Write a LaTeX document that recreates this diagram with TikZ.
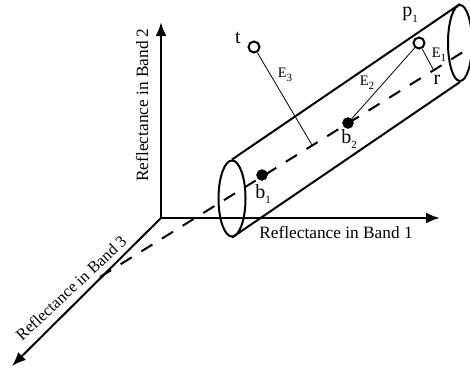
\documentclass[tikz,border=0pt]{standalone}
\usepackage{fontspec}
\setmainfont{Liberation Serif}
\usepackage{tikz}
\usetikzlibrary{arrows.meta,positioning,shapes.geometric}
\newcommand{\subidx}[1]{\raisebox{-0.6ex}{\fontsize{11}{11}\selectfont #1}}

\begin{document}
\begin{tikzpicture}[
  x=1pt, y=-1pt,
  font=\fontsize{17.3}{18}\selectfont,
  axisline/.style={line width=2.6pt, -{Latex[length=14pt,width=11pt]}},
  tubeline/.style={line width=2pt},
  tubeend/.style={draw, ellipse, line width=2pt, inner sep=0pt, minimum width=27pt, minimum height=76pt},
  openpt/.style={draw, circle, line width=2pt, fill=white, inner sep=0pt, minimum size=11pt},
  fullpt/.style={draw, circle, fill=black, inner sep=0pt, minimum size=11pt},
  distline/.style={line width=0.8pt},
  biglabel/.style={font=\fontsize{20}{20}\selectfont, inner sep=0pt},
  smalltext/.style={font=\fontsize{14.5}{15}\selectfont, inner sep=0pt}
]
  \useasboundingbox (0,0) rectangle (470,372);
  % axes
  \coordinate (O) at (161,218);
  \coordinate (xend) at (440,218);
  \coordinate (yend) at (161,22);
  \coordinate (zend) at (12,366);
  \draw[axisline] (O) -- (xend);
  \draw[axisline] (O) -- (yend);
  \draw[axisline, line width=2pt] (O) -- (zend);
  % pixel axis through the tube
  \coordinate (dstart) at (100,277);
  \coordinate (dend) at (463,52);
  \draw[line width=2pt, dash pattern=on 13pt off 11.3pt] (dstart) -- (dend);
  \node[tubeend] (left) at (232,198.5) {};
  \node[tubeend, minimum width=24pt] (right) at (460,43) {};
  \draw[tubeline] (left.north) -- (right.north);
  \draw[tubeline] (left.south) -- (right.south);
  % pixels
  \node[openpt] (t) at (254,47) {};
  \node[openpt] (p) at (419,43) {};
  \node[fullpt] (b1) at (262,175) {};
  \node[fullpt] (b2) at (348,123) {};
  \coordinate (foot3) at (312,145);
  \coordinate (foot1) at (433,69);
  \draw[distline] (t) -- (foot3);
  \draw[distline] (p) -- (b2);
  \draw[distline] (p) -- (foot1);
  % labels
  \node[biglabel] (tlab) at (238,38) {t};
  \node[biglabel] (plab) at (410,15) {p\subidx{1}};
  \node[biglabel] (rlab) at (437,80) {r};
  \node[biglabel] (b1lab) at (263,194) {b\subidx{1}};
  \node[biglabel] (b2lab) at (349,139) {b\subidx{2}};
  \node[smalltext] (e1lab) at (439,55) {E\subidx{1}};
  \node[smalltext] (e2lab) at (367,83) {E\subidx{2}};
  \node[smalltext] (e3lab) at (285,75) {E\subidx{3}};
  \node (xlab) at (336,232) {Reflectance in Band 1};
  \node[rotate=90] (ylab) at (142,105) {Reflectance in Band 2};
  \node[rotate=43, font=\fontsize{16.3}{18}\selectfont] (zlab) at (71,288) {Reflectance in Band 3};
\end{tikzpicture}
\end{document}
